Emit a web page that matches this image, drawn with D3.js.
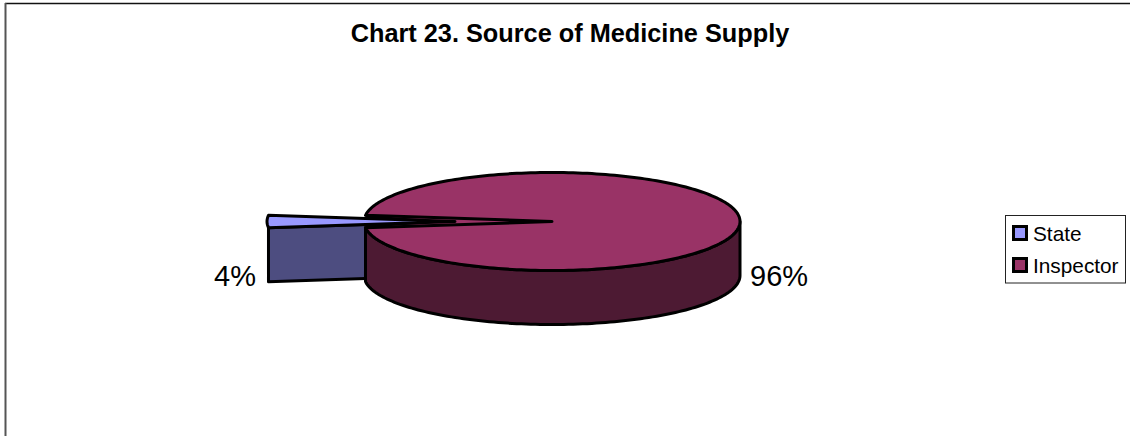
<!DOCTYPE html>
<html><head><meta charset="utf-8">
<script src="https://cdnjs.cloudflare.com/ajax/libs/d3/7.8.5/d3.min.js"></script>
<style>html,body{margin:0;padding:0;background:#fff}svg{display:block}text{font-family:"Liberation Sans",Arial,sans-serif;fill:#000}</style>
</head><body><svg id="c" width="1130" height="436"></svg>
<script>
const categories = ["State", "Inspector"];
const values = [4, 96];
const labels = ["4%", "96%"];
const topColors = ["#9999ff", "#993366"];
const wallColors = ["#4d4d80", "#4d1a33"];
const title = "Chart 23. Source of Medicine Supply";

const svg = d3.select("#c");
svg.append("path").attr("d","M5 3.5H1130").attr("fill","none").attr("stroke","#111").attr("stroke-width",1.6);
svg.append("path").attr("d","M5.5 3V436").attr("fill","none").attr("stroke","#555").attr("stroke-width",2);
svg.append("text").attr("x",570).attr("y",42).attr("text-anchor","middle")
  .attr("font-weight","bold").attr("font-size",25.3).text(title);

const cx=552, cy=221.5, rx=188, ry=49, depth=54, explode=97;
const mid=-Math.PI/2, span=2*Math.PI*values[0]/d3.sum(values);
const pie=d3.pie().sort(null).value(d=>d).startAngle(mid-span/2).endAngle(mid+2*Math.PI-span/2);
const arcs=pie(values);
const stateA=arcs[0], mainA=arcs[1];
const pt=(a,dx=0,dy=0)=>[cx+dx+rx*Math.sin(a), cy+dy-ry*Math.cos(a)];
const line=d3.line().curve(d3.curveLinear);
const arcPts=(a0,a1,dx=0,dy=0,n=120)=>d3.range(n+1).map(i=>pt(a0+(a1-a0)*i/n,dx,dy));
const sw=3;
const style=(s,fill)=>s.attr("fill",fill).attr("stroke","#000").attr("stroke-width",sw).attr("stroke-linejoin","round");

// State cut wall (extruded lower edge)
const sLow=pt(stateA.startAngle,-explode), apex=[cx-explode,cy];
style(svg.append("path").attr("d",line([apex,sLow,[sLow[0],sLow[1]+depth],[apex[0],apex[1]+depth]])+"Z"),wallColors[0]);

// Inspector outer wall: from the right extreme round the front to the lower notch edge
const frontEnd=Math.PI+Math.PI/2-span/2;
const front=arcPts(Math.PI/2,frontEnd);
const frontB=arcPts(Math.PI/2,frontEnd,0,depth).reverse();
style(svg.append("path").attr("d",line(front.concat(frontB))+"Z"),wallColors[1]);

// Inspector top, with the notch showing its own colour behind the gap
const notchL=pt(stateA.startAngle), notchU=pt(stateA.endAngle);
svg.append("path").attr("d",line([[cx,cy],notchL,notchU])+"Z").attr("fill",topColors[1]);
const mainPts=[[cx,cy]].concat(arcPts(mainA.startAngle,mainA.endAngle,0,0,240));
style(svg.append("path").attr("d",line(mainPts)+"Z"),topColors[1]);

// Gap between the pulled-out wedge and the notch reads as solid outline
svg.append("path").attr("d",line([apex,notchL,notchU])+"Z").attr("fill","#000");

// State top
const statePts=[apex].concat(arcPts(stateA.startAngle,stateA.endAngle,-explode,0,8));
style(svg.append("path").attr("d",line(statePts)+"Z"),topColors[0]);

// Data labels
svg.append("text").attr("x",214).attr("y",286).attr("font-size",29).text(labels[0]);
svg.append("text").attr("x",750).attr("y",286).attr("font-size",29).text(labels[1]);

// Legend
svg.append("rect").attr("x",1005.5).attr("y",215.5).attr("width",120).attr("height",67.5)
  .attr("fill","#fff").attr("stroke","#222").attr("stroke-width",1);
const rows=d3.scaleOrdinal().domain(categories).range([233,265]);
categories.forEach((c,i)=>{
  svg.append("rect").attr("x",1013.5).attr("y",rows(c)-6.5).attr("width",13).attr("height",13)
    .attr("fill",topColors[i]).attr("stroke","#000").attr("stroke-width",3);
  svg.append("text").attr("x",1033).attr("y",rows(c)+7.5).attr("font-size",20.8).text(c);
});
</script></body></html>
